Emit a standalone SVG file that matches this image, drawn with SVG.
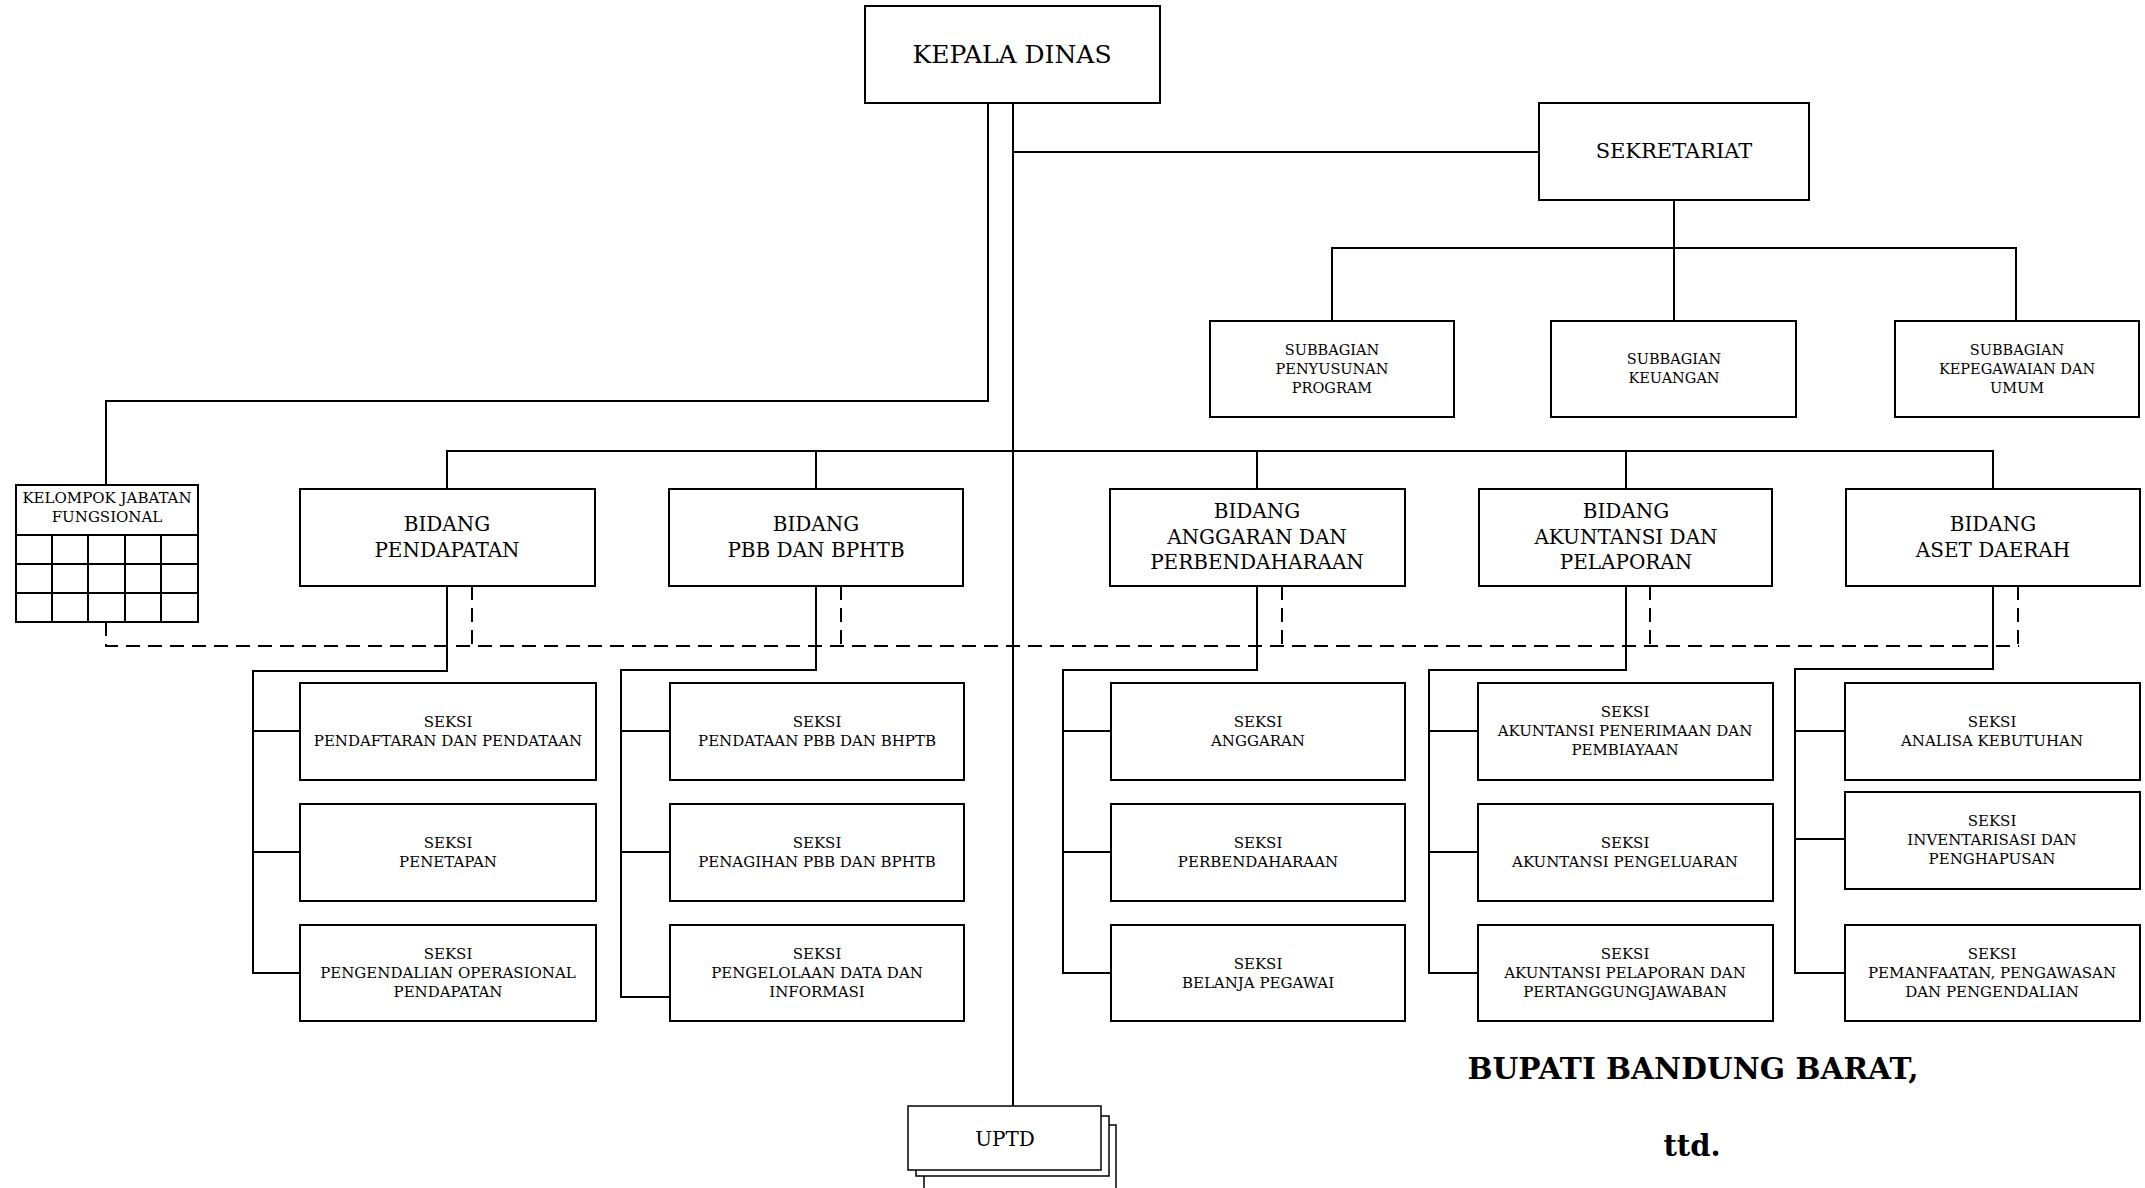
<svg xmlns="http://www.w3.org/2000/svg" width="2145" height="1188" viewBox="0 0 2145 1188">
  <style>
    .box { fill: #fff; stroke: #000; stroke-width: 2; }
    .ln { fill: none; stroke: #000; stroke-width: 2; }
    .thin { fill: none; stroke: #000; stroke-width: 1.5; }
    .dash { fill: none; stroke: #000; stroke-width: 2; stroke-dasharray: 14 8; }
    text { font-family: "DejaVu Serif", "Liberation Serif", serif; text-anchor: middle; fill: #000; }
    .f25 { font-size: 25px; }
    .f21 { font-size: 21px; }
    .f20 { font-size: 20px; }
    .f15 { font-size: 15px; }
    .f14 { font-size: 14.5px; }
    .sign { font-size: 29px; font-weight: bold; }
  </style>

  <!-- connectors -->
  <g id="connectors">
    <!-- main spine to UPTD -->
    <path class="ln" d="M1013 103 V1106"/>
    <!-- to functional group -->
    <path class="ln" d="M988 103 V401 H106 V485"/>
    <!-- to secretariat -->
    <path class="ln" d="M1013 152 H1539"/>
    <path class="ln" d="M1674 200 V321"/>
    <path class="ln" d="M1332 321 V248 H2016 V321"/>
    <!-- bidang bus -->
    <path class="ln" d="M447 488 V451 H1993 V488"/>
    <path class="ln" d="M816 451 V488"/>
    <path class="ln" d="M1257 451 V488"/>
    <path class="ln" d="M1626 451 V488"/>
    <!-- coordination dashed lines -->
    <path class="dash" d="M106 622 V646 H2019"/>
    <path class="dash" d="M472 586 V646"/>
    <path class="dash" d="M841 586 V646"/>
    <path class="dash" d="M1282 586 V646"/>
    <path class="dash" d="M1650 586 V646"/>
    <path class="dash" d="M2018 586 V646"/>
    <!-- Pendapatan sections -->
    <path class="ln" d="M447 586 V671 H253 V973 H300"/>
    <path class="ln" d="M253 731 H300 M253 852 H300"/>
    <!-- PBB sections -->
    <path class="ln" d="M816 586 V670 H621 V997 H670"/>
    <path class="ln" d="M621 731 H670 M621 852 H670"/>
    <!-- Anggaran sections -->
    <path class="ln" d="M1257 586 V670 H1063 V973 H1111"/>
    <path class="ln" d="M1063 731 H1111 M1063 852 H1111"/>
    <!-- Akuntansi sections -->
    <path class="ln" d="M1626 586 V670 H1429 V973 H1478"/>
    <path class="ln" d="M1429 731 H1478 M1429 852 H1478"/>
    <!-- Aset sections -->
    <path class="ln" d="M1993 586 V669 H1795 V973 H1845"/>
    <path class="ln" d="M1795 731 H1845 M1795 839 H1845"/>
  </g>

  <!-- head -->
  <g id="kepala-dinas">
    <rect class="box" x="865" y="6" width="295" height="97"/>
    <text class="f25" x="1012" y="63">KEPALA DINAS</text>
  </g>

  <!-- secretariat and sub-sections -->
  <g id="sekretariat">
    <rect class="box" x="1539" y="103" width="270" height="97"/>
    <text class="f21" x="1674" y="158">SEKRETARIAT</text>
  </g>
  <g id="subbagian-program">
    <rect class="box" x="1210" y="321" width="244" height="96"/>
    <text class="f14" x="1332" y="355">SUBBAGIAN</text>
    <text class="f14" x="1332" y="374">PENYUSUNAN</text>
    <text class="f14" x="1332" y="393">PROGRAM</text>
  </g>
  <g id="subbagian-keuangan">
    <rect class="box" x="1551" y="321" width="245" height="96"/>
    <text class="f14" x="1674" y="364">SUBBAGIAN</text>
    <text class="f14" x="1674" y="383">KEUANGAN</text>
  </g>
  <g id="subbagian-umum">
    <rect class="box" x="1895" y="321" width="244" height="96"/>
    <text class="f14" x="2017" y="355">SUBBAGIAN</text>
    <text class="f14" x="2017" y="374">KEPEGAWAIAN DAN</text>
    <text class="f14" x="2017" y="393">UMUM</text>
  </g>

  <!-- functional group -->
  <g id="kelompok-jabatan-fungsional">
    <rect class="box" x="16" y="485" width="182" height="137"/>
    <path class="ln" d="M16 535 H198 M16 564 H198 M16 593 H198 M52 535 V622 M88 535 V622 M125 535 V622 M161 535 V622"/>
    <text class="f15" x="107" y="503">KELOMPOK JABATAN</text>
    <text class="f15" x="107" y="522">FUNGSIONAL</text>
  </g>

  <!-- bidang -->
  <g id="bidang-pendapatan">
    <rect class="box" x="300" y="489" width="295" height="97"/>
    <text class="f20" x="447" y="531">BIDANG</text>
    <text class="f20" x="447" y="557">PENDAPATAN</text>
  </g>
  <g id="bidang-pbb">
    <rect class="box" x="669" y="489" width="294" height="97"/>
    <text class="f20" x="816" y="531">BIDANG</text>
    <text class="f20" x="816" y="557">PBB DAN BPHTB</text>
  </g>
  <g id="bidang-anggaran">
    <rect class="box" x="1110" y="489" width="295" height="97"/>
    <text class="f20" x="1257" y="518">BIDANG</text>
    <text class="f20" x="1257" y="544">ANGGARAN DAN</text>
    <text class="f20" x="1257" y="569">PERBENDAHARAAN</text>
  </g>
  <g id="bidang-akuntansi">
    <rect class="box" x="1479" y="489" width="293" height="97"/>
    <text class="f20" x="1626" y="518">BIDANG</text>
    <text class="f20" x="1626" y="544">AKUNTANSI DAN</text>
    <text class="f20" x="1626" y="569">PELAPORAN</text>
  </g>
  <g id="bidang-aset">
    <rect class="box" x="1846" y="489" width="294" height="97"/>
    <text class="f20" x="1993" y="531">BIDANG</text>
    <text class="f20" x="1993" y="557">ASET DAERAH</text>
  </g>

  <!-- seksi: pendapatan -->
  <g id="seksi-pendaftaran">
    <rect class="box" x="300" y="683" width="296" height="97"/>
    <text class="f15" x="448" y="727">SEKSI</text>
    <text class="f15" x="448" y="746">PENDAFTARAN DAN PENDATAAN</text>
  </g>
  <g id="seksi-penetapan">
    <rect class="box" x="300" y="804" width="296" height="97"/>
    <text class="f15" x="448" y="848">SEKSI</text>
    <text class="f15" x="448" y="867">PENETAPAN</text>
  </g>
  <g id="seksi-pengendalian-operasional">
    <rect class="box" x="300" y="925" width="296" height="96"/>
    <text class="f15" x="448" y="959">SEKSI</text>
    <text class="f15" x="448" y="978">PENGENDALIAN OPERASIONAL</text>
    <text class="f15" x="448" y="997">PENDAPATAN</text>
  </g>

  <!-- seksi: pbb -->
  <g id="seksi-pendataan-pbb">
    <rect class="box" x="670" y="683" width="294" height="97"/>
    <text class="f15" x="817" y="727">SEKSI</text>
    <text class="f15" x="817" y="746">PENDATAAN PBB DAN BHPTB</text>
  </g>
  <g id="seksi-penagihan-pbb">
    <rect class="box" x="670" y="804" width="294" height="97"/>
    <text class="f15" x="817" y="848">SEKSI</text>
    <text class="f15" x="817" y="867">PENAGIHAN PBB DAN BPHTB</text>
  </g>
  <g id="seksi-pengelolaan-data">
    <rect class="box" x="670" y="925" width="294" height="96"/>
    <text class="f15" x="817" y="959">SEKSI</text>
    <text class="f15" x="817" y="978">PENGELOLAAN DATA DAN</text>
    <text class="f15" x="817" y="997">INFORMASI</text>
  </g>

  <!-- seksi: anggaran -->
  <g id="seksi-anggaran">
    <rect class="box" x="1111" y="683" width="294" height="97"/>
    <text class="f15" x="1258" y="727">SEKSI</text>
    <text class="f15" x="1258" y="746">ANGGARAN</text>
  </g>
  <g id="seksi-perbendaharaan">
    <rect class="box" x="1111" y="804" width="294" height="97"/>
    <text class="f15" x="1258" y="848">SEKSI</text>
    <text class="f15" x="1258" y="867">PERBENDAHARAAN</text>
  </g>
  <g id="seksi-belanja-pegawai">
    <rect class="box" x="1111" y="925" width="294" height="96"/>
    <text class="f15" x="1258" y="969">SEKSI</text>
    <text class="f15" x="1258" y="988">BELANJA PEGAWAI</text>
  </g>

  <!-- seksi: akuntansi -->
  <g id="seksi-akuntansi-penerimaan">
    <rect class="box" x="1478" y="683" width="295" height="97"/>
    <text class="f15" x="1625" y="717">SEKSI</text>
    <text class="f15" x="1625" y="736">AKUNTANSI PENERIMAAN DAN</text>
    <text class="f15" x="1625" y="755">PEMBIAYAAN</text>
  </g>
  <g id="seksi-akuntansi-pengeluaran">
    <rect class="box" x="1478" y="804" width="295" height="97"/>
    <text class="f15" x="1625" y="848">SEKSI</text>
    <text class="f15" x="1625" y="867">AKUNTANSI PENGELUARAN</text>
  </g>
  <g id="seksi-akuntansi-pelaporan">
    <rect class="box" x="1478" y="925" width="295" height="96"/>
    <text class="f15" x="1625" y="959">SEKSI</text>
    <text class="f15" x="1625" y="978">AKUNTANSI PELAPORAN DAN</text>
    <text class="f15" x="1625" y="997">PERTANGGUNGJAWABAN</text>
  </g>

  <!-- seksi: aset -->
  <g id="seksi-analisa-kebutuhan">
    <rect class="box" x="1845" y="683" width="295" height="97"/>
    <text class="f15" x="1992" y="727">SEKSI</text>
    <text class="f15" x="1992" y="746">ANALISA KEBUTUHAN</text>
  </g>
  <g id="seksi-inventarisasi">
    <rect class="box" x="1845" y="792" width="295" height="97"/>
    <text class="f15" x="1992" y="826">SEKSI</text>
    <text class="f15" x="1992" y="845">INVENTARISASI DAN</text>
    <text class="f15" x="1992" y="864">PENGHAPUSAN</text>
  </g>
  <g id="seksi-pemanfaatan">
    <rect class="box" x="1845" y="925" width="295" height="96"/>
    <text class="f15" x="1992" y="959">SEKSI</text>
    <text class="f15" x="1992" y="978">PEMANFAATAN, PENGAWASAN</text>
    <text class="f15" x="1992" y="997">DAN PENGENDALIAN</text>
  </g>

  <!-- UPTD as a stack of sheets -->
  <g id="uptd">
    <rect class="thin" x="924" y="1125" width="192" height="70" style="fill:#fff"/>
    <rect class="thin" x="916" y="1116" width="193" height="60" style="fill:#fff"/>
    <rect class="thin" x="908" y="1106" width="193" height="64" style="fill:#fff"/>
    <text class="f20" x="1005" y="1146">UPTD</text>
  </g>

  <!-- signature block -->
  <g id="signature">
    <text class="sign" x="1693" y="1079" textLength="451" lengthAdjust="spacingAndGlyphs">BUPATI BANDUNG BARAT,</text>
    <text class="sign" x="1692" y="1156">ttd.</text>
  </g>
</svg>
